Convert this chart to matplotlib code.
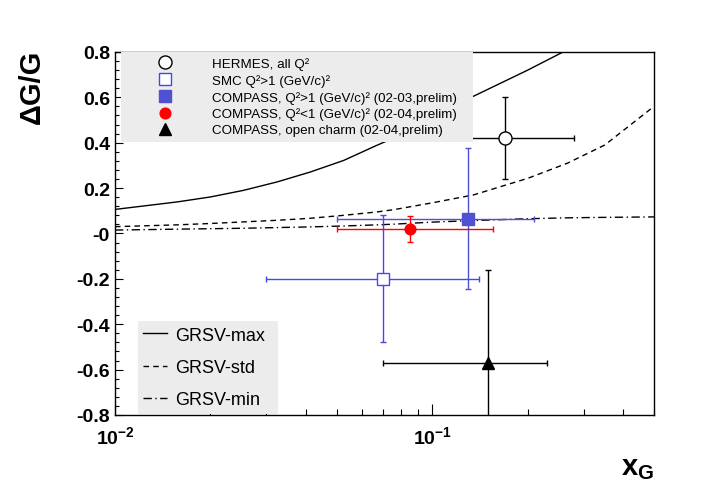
import matplotlib
matplotlib.use("Agg")
import matplotlib.pyplot as plt
from matplotlib.lines import Line2D
from matplotlib.ticker import LogLocator, MultipleLocator, NullFormatter

plt.rcParams["font.family"] = "Liberation Sans"
plt.rcParams["mathtext.fontset"] = "custom"
plt.rcParams["mathtext.rm"] = "Liberation Sans"
plt.rcParams["mathtext.it"] = "Liberation Sans:italic"
plt.rcParams["mathtext.bf"] = "Liberation Sans:bold"

# GRSV model curves
xg_curve = [0.01, 0.0157, 0.02, 0.0254, 0.0324, 0.0413, 0.0526, 0.067, 0.0757,
            0.1, 0.135, 0.2, 0.267, 0.35, 0.5]
grsv_max = [0.106, 0.139, 0.161, 0.19, 0.227, 0.271, 0.322, 0.389, 0.421,
            0.508, 0.605, 0.72, 0.81, 0.89, 1.0]
grsv_std = [0.03, 0.038, 0.044, 0.051, 0.058, 0.067, 0.08, 0.095, 0.105,
            0.135, 0.17, 0.243, 0.31, 0.39, 0.56]
grsv_min = [0.015, 0.019, 0.021, 0.023, 0.026, 0.029, 0.033, 0.038, 0.041,
            0.05, 0.057, 0.065, 0.069, 0.071, 0.073]

# measurements
labels = [
    "HERMES, all Q²",
    "SMC Q²>1 (GeV/c)²",
    "COMPASS, Q²>1 (GeV/c)² (02-03,prelim)",
    "COMPASS, Q²<1 (GeV/c)² (02-04,prelim)",
    "COMPASS, open charm (02-04,prelim)",
]
xg = [0.17, 0.07, 0.13, 0.085, 0.15]
dgg = [0.42, -0.20, 0.065, 0.02, -0.57]
dgg_err = [0.18, 0.28, 0.31, 0.058, 0.41]
xg_lo = [0.06, 0.03, 0.05, 0.05, 0.07]
xg_hi = [0.28, 0.14, 0.21, 0.155, 0.23]

markers = ["o", "s", "s", "o", "^"]
colors = ["black", "#4646f0", "#5050d2", "#ff0000", "black"]
faces = ["white", "white", "#5050d2", "#ff0000", "black"]
msizes = [9.4, 9.0, 8.0, 7.7, 8.0]

yticks = [-0.8, -0.6, -0.4, -0.2, 0.0, 0.2, 0.4, 0.6, 0.8]
ytick_labels = ["-0.8", "-0.6", "-0.4", "-0.2", "-0", "0.2", "0.4", "0.6", "0.8"]
xticks = [0.01, 0.1]
xtick_labels = [r"$\mathbf{10^{-2}}$", r"$\mathbf{10^{-1}}$"]


def main():
    fig = plt.figure(figsize=(7.12, 4.85), dpi=100)
    ax = fig.add_axes([0.1615, 0.1423, 0.7570, 0.7485])
    ax.set_xscale("log")

    ax.plot(xg_curve, grsv_max, color="black", lw=1.0, ls="-", zorder=2)
    ax.plot(xg_curve, grsv_std, color="black", lw=1.0, ls=(0, (4, 3)), zorder=2)
    ax.plot(xg_curve, grsv_min, color="black", lw=1.0, ls=(0, (6, 2.5, 1, 2.5)), zorder=2)

    handles = []
    for i in range(len(xg)):
        xerr = [[xg[i] - xg_lo[i]], [xg_hi[i] - xg[i]]]
        ax.errorbar([xg[i]], [dgg[i]], xerr=xerr, yerr=[dgg_err[i]],
                    fmt=markers[i], color=colors[i], mfc=faces[i], mec=colors[i],
                    ms=msizes[i], mew=1.0, elinewidth=1.0, capsize=2.5, capthick=1.0,
                    zorder=3)
        handles.append(Line2D([], [], ls="none", marker=markers[i], color=colors[i],
                              mfc=faces[i], mec=colors[i], ms=msizes[i], mew=1.0))

    ax.set_xlim(0.01, 0.5)
    ax.set_ylim(-0.8, 0.8)

    ax.set_xticks(xticks, labels=xtick_labels)
    ax.xaxis.set_minor_locator(LogLocator(base=10, subs=range(2, 10)))
    ax.xaxis.set_minor_formatter(NullFormatter())
    ax.set_yticks(yticks, labels=ytick_labels)
    ax.yaxis.set_minor_locator(MultipleLocator(0.04))

    ax.tick_params(which="both", direction="in", top=False, right=False)
    ax.tick_params(axis="x", which="major", length=7.7, width=0.8, pad=7, labelsize=14)
    ax.tick_params(axis="x", which="minor", length=4.1, width=0.8)
    ax.tick_params(axis="y", which="major", length=6, width=0.8, pad=3.6, labelsize=14)
    ax.tick_params(axis="y", which="minor", length=3, width=0.8)
    for t in ax.get_yticklabels():
        t.set_fontweight("bold")
    for s in ax.spines.values():
        s.set_linewidth(1.0)

    ax.set_ylabel("ΔG/G", fontsize=21, fontweight="bold")
    ax.yaxis.set_label_coords(-0.154, 1.008)
    ax.yaxis.label.set_va("center")
    ax.yaxis.label.set_ha("right")

    ax.set_xlabel(r"$\mathbf{x_{G}}$", fontsize=21)
    ax.xaxis.set_label_coords(1.0, -0.105)
    ax.xaxis.label.set_ha("right")

    leg1 = ax.legend(handles, labels, loc="upper left",
                     bbox_to_anchor=(0.011, 1.0, 0.653, 0.0), mode="expand",
                     borderaxespad=0, fontsize=9.6, handlelength=5.8,
                     handletextpad=0.65, borderpad=0.4, labelspacing=0.29,
                     fancybox=False, facecolor="#ececec", edgecolor="none",
                     framealpha=1)
    ax.add_artist(leg1)

    curve_handles = [
        Line2D([], [], color="black", lw=1.0, ls="-"),
        Line2D([], [], color="black", lw=1.0, ls=(0, (4, 3))),
        Line2D([], [], color="black", lw=1.0, ls=(0, (6, 2.5, 1, 2.5))),
    ]
    ax.legend(curve_handles, ["GRSV-max", "GRSV-std", "GRSV-min"], loc="lower left",
              bbox_to_anchor=(0.0427, 0.003, 0.26, 0.0), mode="expand",
              borderaxespad=0, fontsize=13, handlelength=1.33, handletextpad=0.4,
              borderpad=0.3, labelspacing=0.85, fancybox=False, facecolor="#ececec",
              edgecolor="none", framealpha=1)

    fig.savefig("out.png", dpi=100)
    plt.close(fig)


if __name__ == "__main__":
    main()
